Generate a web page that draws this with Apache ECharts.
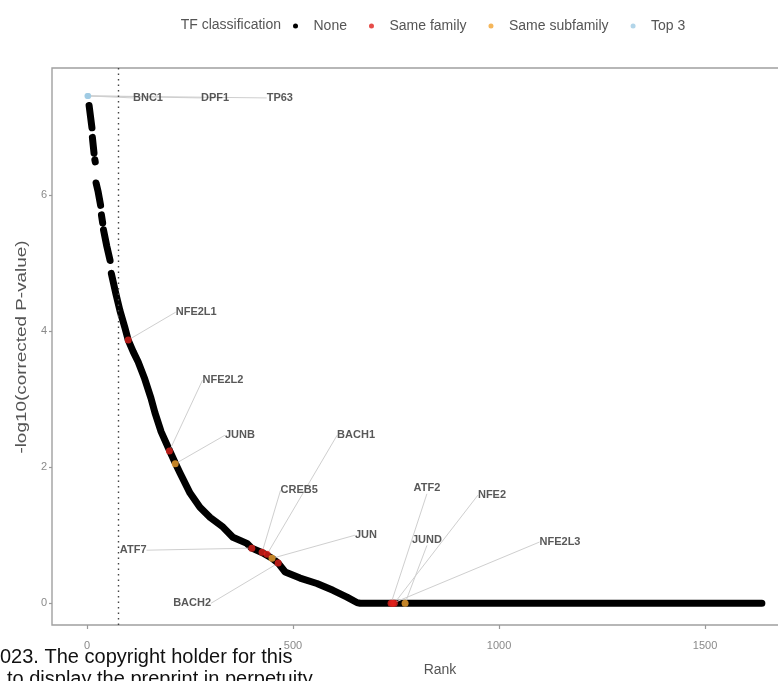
<!DOCTYPE html>
<html>
<head>
<meta charset="utf-8">
<script src="https://cdn.jsdelivr.net/npm/echarts@6/dist/echarts.min.js"></script>
<style>
  html, body { margin: 0; padding: 0; background: #ffffff; }
  #chart { width: 778px; height: 681px; }
</style>
</head>
<body>
<div id="chart"></div>
<script>
// Ranked TF motif enrichment: rank vs -log10(corrected P-value)

const xTicks = [0, 500, 1000, 1500];
const yTicks = [0, 2, 4, 6];
const cutoffRank = 75;

// Unlabelled TFs ("None"): traced as a dense band, null separates runs of points
const noneRank = [5, 12, null, 13, 17, null, 19, 20, null, 22, 27, 33, null, 35, 38, null, 40, 48, 56, null,
  59, 70, 80, 92, 100, 112, 124, 140, 155, 165, 180, 200, 215, 226, 250, 274, 299, 330, 354, 388,
  400, 427, 449, 464, 481, 517, 558, 597, 631, 655, 663, 1638];
const noneValue = [7.32, 6.99, null, 6.85, 6.62, null, 6.52, 6.49, null, 6.18, 6.05, 5.85, null, 5.71, 5.59, null, 5.49, 5.25, 5.04, null,
  4.85, 4.55, 4.30, 4.05, 3.87, 3.70, 3.55, 3.30, 3.02, 2.80, 2.52, 2.25, 2.05, 1.91, 1.62, 1.41, 1.26, 1.12, 0.97, 0.88,
  0.81, 0.74, 0.66, 0.59, 0.46, 0.37, 0.29, 0.19, 0.09, 0.01, 0, 0];

// Same family
const familyNames = ['NFE2L1', 'NFE2L2', 'ATF7', 'CREB5', 'BACH1', 'BACH2', 'ATF2', 'NFE2L3', 'NFE2'];
const familyRank  = [100, 200, 400, 425, 437, 464, 738, 742, 746];
const familyValue = [3.87, 2.24, 0.81, 0.75, 0.72, 0.59, 0, 0, 0];

// Same subfamily
const subfamilyNames = ['JUNB', 'JUN', 'JUND'];
const subfamilyRank  = [214, 449, 772];
const subfamilyValue = [2.05, 0.66, 0];

// Top 3
const topNames = ['BNC1', 'DPF1', 'TP63'];
const topRank  = [1, 2, 3];
const topValue = [7.46, 7.46, 7.46];

// Where each name tag sits, in (rank, value) units
const tagAt = {
  BNC1: [148, 7.43], DPF1: [311, 7.43], TP63: [468, 7.43],
  NFE2L1: [265, 4.28], NFE2L2: [330, 3.28], JUNB: [371, 2.47],
  BACH1: [653, 2.47], CREB5: [515, 1.66], JUN: [677, 1.0],
  ATF7: [112, 0.78], BACH2: [255, 0.0],
  ATF2: [825, 1.69], JUND: [825, 0.93], NFE2: [983, 1.59], NFE2L3: [1148, 0.90]
};

const FONT = "'Liberation Sans', Arial, sans-serif";
const COL = { none: '#000000', family: '#e0201b', subfamily: '#f2a431', top: '#9fcbe3' };

const zip = (names, rs, vs) => names.map((n, i) => ({ name: n, value: [rs[i], vs[i]] }));

const chart = echarts.init(document.getElementById('chart'), null, { renderer: 'canvas' });

function placeTag(params) {
  const s = option.series[params.seriesIndex];
  const d = s.data[params.dataIndex];
  const pos = d && tagAt[d.name];
  if (!pos) return {};
  const p = chart.convertToPixel({ gridIndex: 0 }, pos);
  return { x: p[0], y: p[1], align: 'center', verticalAlign: 'middle' };
}

const tagLabel = {
  show: true,
  formatter: '{b}',
  fontFamily: FONT,
  fontSize: 11,
  fontWeight: 'bold',
  color: '#2e2e2e'
};
const tagLine = { show: true, lineStyle: { color: '#cfcfcf', width: 1 } };

const option = {
  animation: false,
  backgroundColor: '#ffffff',
  grid: {
    left: 52, top: 68, width: 776, height: 557,
    outerBoundsMode: 'none', containLabel: false,
    show: true, borderColor: '#a0a0a0', borderWidth: 1.4, backgroundColor: 'transparent'
  },
  legend: {
    left: 288, top: 14,
    itemWidth: 26, itemHeight: 5, itemGap: 22,
    textStyle: { fontFamily: FONT, fontSize: 14, color: '#555555' },
    data: [
      { name: 'None', icon: 'circle' },
      { name: 'Same family', icon: 'circle' },
      { name: 'Same subfamily', icon: 'circle' },
      { name: 'Top 3', icon: 'circle' }
    ]
  },
  graphic: [
    {
      type: 'text', z: 10,
      style: { x: 281, y: 25, text: 'TF classification', fontFamily: FONT, fontSize: 14,
        fill: '#555555', align: 'right', verticalAlign: 'middle' }
    },
    {
      type: 'text', z: 10, x: 22, y: 347, rotation: Math.PI / 2, scaleX: 1.35,
      style: { x: 0, y: 0, text: '-log10(corrected P-value)', fontFamily: FONT, fontSize: 14,
        fill: '#555555', align: 'center', verticalAlign: 'middle' }
    },
    {
      type: 'text', z: 100,
      style: { x: 0, y: 657, text: '023. The copyright holder for this', fontFamily: FONT, fontSize: 20,
        fill: '#111111', verticalAlign: 'middle' }
    },
    {
      type: 'text', z: 100,
      style: { x: 7, y: 679, text: 'to display the preprint in perpetuity.', fontFamily: FONT, fontSize: 20,
        fill: '#111111', verticalAlign: 'middle' }
    }
  ],
  xAxis: {
    type: 'value', min: -85, max: -85 + 776 / 0.412,
    name: 'Rank', nameLocation: 'middle', nameGap: 38,
    nameTextStyle: { fontFamily: FONT, fontSize: 14, color: '#555555' },
    axisLine: { show: false, onZero: false },
    axisTick: { show: true, customValues: xTicks, length: 4, lineStyle: { color: '#9a9a9a', width: 1.2 } },
    axisLabel: { customValues: xTicks, formatter: v => String(v), fontFamily: FONT, fontSize: 11, color: '#8a8a8a', margin: 15 },
    splitLine: { show: false }
  },
  yAxis: {
    type: 'value', min: -0.32, max: 7.87,
    axisLine: { show: false, onZero: false },
    axisTick: { show: true, customValues: yTicks, length: 3, lineStyle: { color: '#9a9a9a', width: 1.2 } },
    axisLabel: { customValues: yTicks, formatter: v => String(v), fontFamily: FONT, fontSize: 11, color: '#8a8a8a', margin: 5 },
    splitLine: { show: false }
  },
  series: [
    {
      name: 'None', type: 'line',
      data: noneRank.map((r, i) => (r === null ? [null, null] : [r, noneValue[i]])),
      connectNulls: false,
      symbol: 'none',
      color: COL.none,
      lineStyle: { color: COL.none, width: 7, cap: 'round', join: 'round' },
      z: 2,
      markLine: {
        silent: true, symbol: 'none', label: { show: false },
        lineStyle: { color: '#444444', type: [1.5, 4], width: 1.4 },
        data: [{ xAxis: cutoffRank }]
      }
    },
    {
      name: 'Same family', type: 'scatter',
      data: zip(familyNames, familyRank, familyValue),
      symbolSize: 7, itemStyle: { color: COL.family },
      label: tagLabel, labelLine: tagLine, labelLayout: placeTag, z: 3
    },
    {
      name: 'Same subfamily', type: 'scatter',
      data: zip(subfamilyNames, subfamilyRank, subfamilyValue),
      symbolSize: 7, itemStyle: { color: COL.subfamily },
      label: tagLabel, labelLine: tagLine, labelLayout: placeTag, z: 4
    },
    {
      name: 'Top 3', type: 'scatter',
      data: zip(topNames, topRank, topValue),
      symbolSize: 6, itemStyle: { color: COL.top },
      label: tagLabel, labelLine: tagLine, labelLayout: placeTag, z: 4
    }
  ]
};

chart.setOption(option);
</script>
</body>
</html>
